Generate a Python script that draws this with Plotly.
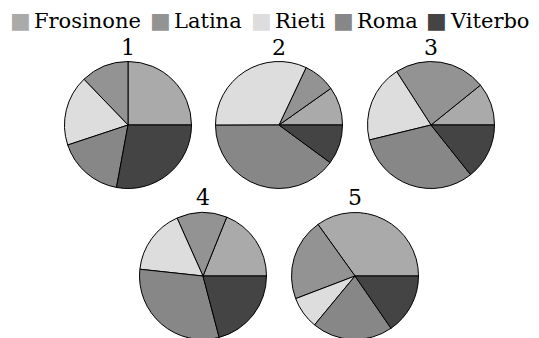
import plotly.graph_objects as go

provinces = ['Frosinone', 'Latina', 'Rieti', 'Roma', 'Viterbo']
colors = ['#aaaaaa', '#939393', '#dddddd', '#878787', '#444444']

# share of each province (percent), one list per pie
pie1 = [25.0, 12.2, 17.9, 17.0, 27.9]
pie2 = [9.8, 8.2, 32.1, 39.9, 10.1]
pie3 = [10.8, 23.3, 19.7, 31.9, 14.3]
pie4 = [18.9, 12.8, 16.6, 30.8, 20.9]
pie5 = [34.9, 20.9, 8.2, 20.6, 15.4]
titles = ['1', '2', '3', '4', '5']

W, H = 539, 338
OFF = 8  # page body margin, figure sits 8px in from the window corner
# pie centres and radius in window pixels
centres = [(128, 125), (279, 125), (431, 125), (203, 276), (355, 276)]
R = 63.5
title_y = [47, 47, 47, 197.5, 197.5]
# legend: left of each square glyph and of each name (window px)
key_x = [8, 148, 249, 331, 424]
name_x = [32, 172, 273, 355, 448]
legend_y = 21

fig = go.Figure()
for i, vals in enumerate([pie1, pie2, pie3, pie4, pie5]):
    cx, cy = centres[i][0] - OFF, centres[i][1] - OFF
    # first slice starts at 3 o'clock and runs counterclockwise
    rot = 90 - 360 * vals[0] / sum(vals)
    fig.add_trace(go.Pie(
        labels=provinces, values=vals, sort=False,
        direction='counterclockwise', rotation=rot,
        marker=dict(colors=colors, line=dict(color='black', width=1)),
        textinfo='none', hoverinfo='label+percent', showlegend=False,
        domain=dict(x=[(cx - R) / W, (cx + R) / W],
                    y=[max(0, 1 - (cy + R) / H), min(1, 1 - (cy - R) / H)]),
    ))
    fig.add_annotation(text=titles[i], x=cx / W, y=1 - (title_y[i] - OFF) / H,
                       xref='paper', yref='paper', showarrow=False,
                       xanchor='center', yanchor='middle',
                       font=dict(size=22, color='black'))

# legend drawn as text: coloured square glyph then the province name
ly = 1 - (legend_y - OFF) / H
for j, name in enumerate(provinces):
    fig.add_annotation(text='■', x=(key_x[j] - OFF) / W, y=ly,
                       xref='paper', yref='paper', showarrow=False,
                       xanchor='left', yanchor='middle',
                       font=dict(family='DejaVu Serif', size=22, color=colors[j]))
    fig.add_annotation(text=name, x=(name_x[j] - OFF) / W, y=ly,
                       xref='paper', yref='paper', showarrow=False,
                       xanchor='left', yanchor='middle',
                       font=dict(family='DejaVu Serif', size=21, color='black'))

fig.update_layout(
    width=W, height=H,
    margin=dict(l=0, r=0, t=0, b=0, autoexpand=False),
    paper_bgcolor='white', plot_bgcolor='white',
    font=dict(family='DejaVu Serif', size=22, color='black'),
    showlegend=False,
)
fig.write_html('out.html')
